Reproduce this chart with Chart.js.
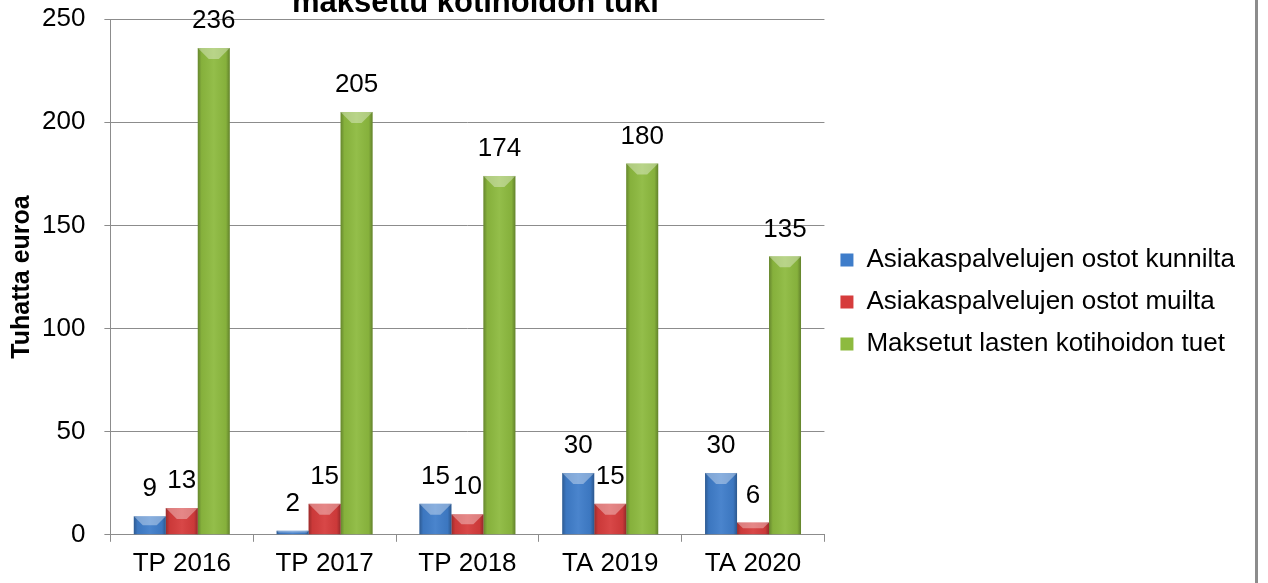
<!DOCTYPE html>
<html>
<head>
<meta charset="utf-8">
<script src="https://cdn.jsdelivr.net/npm/chart.js@4.4.0/dist/chart.umd.min.js"></script>
<style>
  body { margin: 0; background: #fff; }
  #wrap { width: 1255px; height: 583px; border-right: 3px solid #8c8c8c; position: relative; }
</style>
</head>
<body>
<div id="wrap"><canvas id="kotihoito" width="1255" height="583"></canvas></div>
<script>
// vuodet
var years = ['TP 2016', 'TP 2017', 'TP 2018', 'TA 2019', 'TA 2020'];
// tuhatta euroa
var ostotKunnilta = [9, 2, 15, 30, 30];
var ostotMuilta = [13, 15, 10, 15, 6];
var kotihoidonTuet = [236, 205, 174, 180, 135];
var yTicks = [0, 50, 100, 150, 200, 250];

var fontName = '"Liberation Sans", Arial, sans-serif';

// bevel look like the excel bars
var bevelPlugin = {
  id: 'bevel',
  afterDatasetsDraw: function(chart) {
    var ctx = chart.ctx;
    chart.data.datasets.forEach(function(ds, di) {
      var meta = chart.getDatasetMeta(di);
      meta.data.forEach(function(bar) {
        var w = bar.width, left = bar.x - w / 2, top = bar.y, h = bar.base - bar.y;
        if (h <= 0) return;
        ctx.save();
        var g = ctx.createLinearGradient(left, 0, left + w, 0);
        g.addColorStop(0, 'rgba(0,0,0,0.28)');
        g.addColorStop(0.12, 'rgba(0,0,0,0.05)');
        g.addColorStop(0.5, 'rgba(255,255,255,0.06)');
        g.addColorStop(0.88, 'rgba(0,0,0,0.05)');
        g.addColorStop(1, 'rgba(0,0,0,0.3)');
        ctx.fillStyle = g;
        ctx.fillRect(left, top, w, h);
        var d = Math.min(11, h / 2);
        ctx.beginPath();
        ctx.moveTo(left, top);
        ctx.lineTo(left + w, top);
        ctx.lineTo(left + w - d, top + d);
        ctx.lineTo(left + d, top + d);
        ctx.closePath();
        ctx.fillStyle = 'rgba(255,255,255,0.35)';
        ctx.fill();
        ctx.restore();
      });
    });
  }
};

// value labels above bars
var labelPlugin = {
  id: 'arvot',
  afterDatasetsDraw: function(chart) {
    var ctx = chart.ctx;
    ctx.save();
    ctx.font = '26px ' + fontName;
    ctx.fillStyle = '#000';
    ctx.textAlign = 'center';
    ctx.textBaseline = 'middle';
    chart.data.datasets.forEach(function(ds, di) {
      chart.getDatasetMeta(di).data.forEach(function(bar, i) {
        ctx.fillText(String(ds.data[i]), bar.x, bar.y - 27);
      });
    });
    ctx.restore();
  }
};

// title, only the lower line shows
var titlePlugin = {
  id: 'otsikko',
  afterDraw: function(chart) {
    var ctx = chart.ctx, a = chart.chartArea;
    ctx.save();
    ctx.font = 'bold 31px ' + fontName;
    ctx.fillStyle = '#000';
    ctx.textAlign = 'center';
    ctx.textBaseline = 'alphabetic';
    ctx.fillText('maksettu kotihoidon tuki', (a.left + a.right) / 2 + 8, 12);
    ctx.restore();
  }
};

var ctx = document.getElementById('kotihoito');
var myChart = new Chart(ctx, {
  type: 'bar',
  data: {
    labels: years,
    datasets: [{
      label: 'Asiakaspalvelujen ostot kunnilta',
      data: ostotKunnilta,
      backgroundColor: '#3f7dca',
      borderColor: '#2f63a3'
    }, {
      label: 'Asiakaspalvelujen ostot muilta',
      data: ostotMuilta,
      backgroundColor: '#d63c3c',
      borderColor: '#a82b2b'
    }, {
      label: 'Maksetut lasten kotihoidon tuet',
      data: kotihoidonTuet,
      backgroundColor: '#8dba3f',
      borderColor: '#6b9030'
    }]
  },
  options: {
    responsive: false,
    animation: false,
    categoryPercentage: 0.672,
    barPercentage: 1.0,
    layout: { padding: { left: 3, top: 19, bottom: -2, right: 10 } },
    plugins: {
      tooltip: { enabled: false },
      legend: {
        position: 'right',
        align: 'center',
        maxWidth: 600,
        labels: {
          color: '#000',
          font: { family: fontName, size: 26 },
          boxWidth: 13,
          boxHeight: 13,
          padding: 16
        }
      }
    },
    scales: {
      x: {
        grid: { drawOnChartArea: false, offset: true, tickLength: 7, color: '#8c8c8c' },
        border: { color: '#8c8c8c' },
        ticks: { color: '#000', padding: 6, font: { family: fontName, size: 26 } }
      },
      y: {
        min: 0,
        max: 250,
        afterBuildTicks: function(axis) {
          axis.ticks = yTicks.map(function(v) { return { value: v }; });
        },
        grid: { color: '#8c8c8c', tickLength: 6 },
        border: { color: '#8c8c8c' },
        // tiny lineHeight so the top label does not push the plot down
        ticks: { color: '#000', padding: 19, font: { family: fontName, size: 26, lineHeight: 0.01 } },
        title: {
          display: true,
          text: 'Tuhatta euroa',
          color: '#000',
          padding: { top: 4, bottom: -14 },
          font: { family: fontName, size: 25, weight: 'bold' }
        }
      }
    }
  },
  plugins: [bevelPlugin, labelPlugin, titlePlugin]
});
</script>
</body>
</html>
